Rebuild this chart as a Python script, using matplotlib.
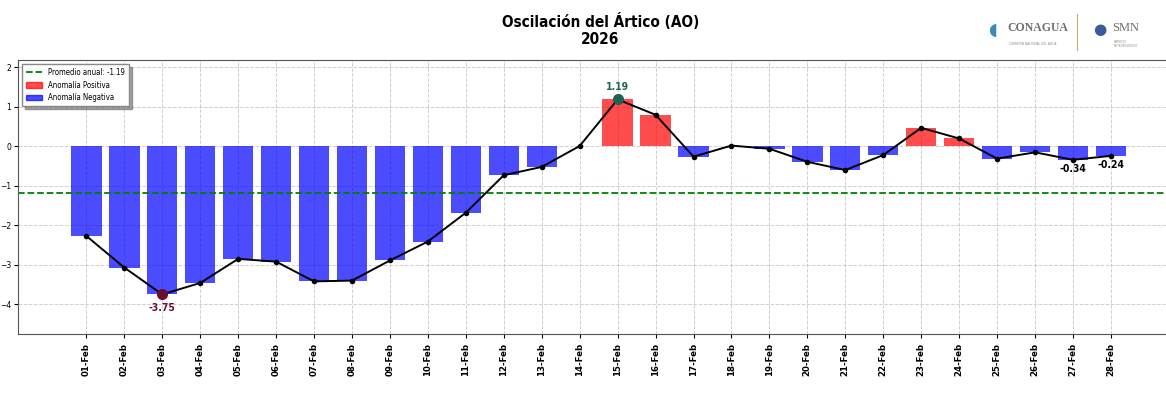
import matplotlib
matplotlib.use("Agg")
import matplotlib.pyplot as plt
from matplotlib.patches import Patch
from matplotlib.lines import Line2D
import numpy as np

# AO daily index, February 2026
dias = [f"{d:02d}-Feb" for d in range(1, 29)]
ao = [-2.27, -3.07, -3.75, -3.46, -2.85, -2.92, -3.42, -3.40, -2.89, -2.41,
      -1.68, -0.73, -0.52, 0.01, 1.19, 0.80, -0.26, 0.02, -0.06, -0.39,
      -0.60, -0.22, 0.47, 0.20, -0.31, -0.15, -0.34, -0.24]
etiquetas_extra = [26, 27]  # last days labelled under the line

valores = np.array(ao)
promedio = round(valores.mean(), 2)
x = np.arange(len(dias))

narrow = dict(family='DejaVu Sans', stretch='condensed')

fig = plt.figure(figsize=(11.66, 3.97), dpi=100)
ax = fig.add_axes([0.0155, 0.159, 1.0017, 0.69])

colores = ['#ff0000' if v >= 0 else '#0000ff' for v in valores]
ax.bar(x, valores, width=0.8, color=colores, alpha=0.7, zorder=2)
ax.plot(x, valores, color='black', lw=1.4, marker='o', ms=3, zorder=3)
ax.axhline(promedio, color='green', ls='--', lw=1.3, zorder=2)

# extremos
imin = int(np.argmin(valores))
imax = int(np.argmax(valores))
ax.plot(x[imin], valores[imin], 'o', color='#6b0f2f', ms=7, zorder=4)
ax.text(x[imin], valores[imin] - 0.22, f"{valores[imin]:.2f}", ha='center', va='top',
        fontsize=7.5, fontweight='bold', color='#6b0f2f', **narrow)
ax.plot(x[imax], valores[imax], 'o', color='#1f6152', ms=7, zorder=4)
ax.text(x[imax], valores[imax] + 0.2, f"{valores[imax]:.2f}", ha='center', va='bottom',
        fontsize=7.5, fontweight='bold', color='#1f6152', **narrow)
for i in etiquetas_extra:
    ax.text(x[i], valores[i] - 0.1, f"{valores[i]:.2f}", ha='center', va='top',
            fontsize=7.5, fontweight='bold', color='black', **narrow)

ax.set_xlim(-1.8, 28.98)
ax.set_ylim(valores.min() - 1, valores.max() + 1)
ax.set_xticks(x)
ax.set_xticklabels(dias, rotation=90, fontsize=6.2, fontweight='bold')
ax.set_yticks(range(-4, 3))
ax.tick_params(axis='y', labelsize=5.5, length=3, pad=2)
ax.tick_params(axis='x', length=3)
ax.grid(True, ls='--', color='#b0b0b0', alpha=0.6, lw=0.7, zorder=0)
for s in ax.spines.values():
    s.set_color('#555555')

# legend
handles = [Line2D([0], [0], color='green', ls='--', lw=1.3),
           Patch(color='#ff0000', alpha=0.7), Patch(color='#0000ff', alpha=0.7)]
labels = [f"Promedio anual: {promedio:.2f}", "Anomalía Positiva", "Anomalía Negativa"]
ax.legend(handles, labels, loc='upper left', shadow=True, fancybox=False,
          framealpha=1, edgecolor='#888888', borderpad=0.55, labelspacing=0.45,
          handlelength=2.0, prop=dict(size=5.6, **narrow))

fig.text(0.515, 0.925, "Oscilación del Ártico (AO)\n2026", ha='center', va='center',
         fontsize=11, fontweight='bold', linespacing=1.2, **narrow)

# header logos as text
fig.text(0.851, 0.925, "◖", fontsize=12, color='#3a8ac0', va='center', ha='center')
fig.text(0.864, 0.93, "CONAGUA", fontsize=8.5, family='Liberation Serif',
         fontweight='bold', color='#6e6e6e', va='center')
fig.text(0.865, 0.89, "COMISIÓN NACIONAL DEL AGUA", fontsize=2.2, color='#888888', va='center')
fig.add_artist(Line2D([0.9235, 0.9235], [0.875, 0.965], color='#c8a878', lw=0.8))
fig.text(0.943, 0.925, "●", fontsize=11, color='#3a5a9a', va='center', ha='center')
fig.text(0.954, 0.93, "SMN", fontsize=9, family='Liberation Serif',
         color='#6e6e6e', va='center')
fig.text(0.955, 0.89, "SERVICIO\nMETEOROLÓGICO", fontsize=2, color='#888888', va='center',
         linespacing=1.0)

fig.savefig("out.png", dpi=100)
